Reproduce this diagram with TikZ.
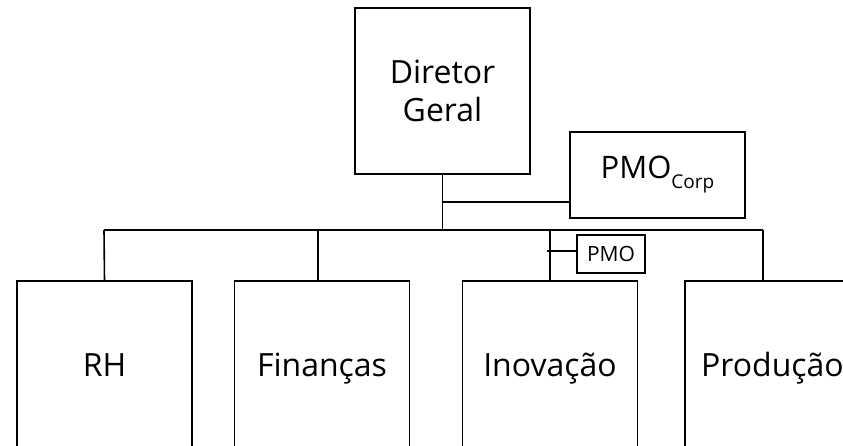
\documentclass[tikz,border=0pt]{standalone}
\usepackage{fontspec}
\setmainfont{Open Sans}
\usepackage{tikz}
\usetikzlibrary{positioning}
\tikzset{
  unit/.style={rectangle, draw=black, line width=1.6pt, inner sep=0pt, align=center,
               minimum width=175pt, minimum height=174pt, font=\fontsize{32}{38}\selectfont},
  dept/.style={unit, text height=24pt, text depth=8pt},
  office/.style={rectangle, draw=black, line width=1.6pt, inner sep=0pt, align=center},
  link/.style={line width=1.6pt},
  trunk/.style={line width=2.6pt},
}

\begin{document}
\begin{tikzpicture}[x=1pt, y=-1pt]
\useasboundingbox (0,0) rectangle (843,446);
\clip (0,0) rectangle (843,446);
% top of the chart
\node[unit, minimum height=166pt] (dg) at (442.5,91) {Diretor\\Geral};
\node[office, minimum width=175pt, minimum height=86pt, font=\fontsize{31}{36}\selectfont]
  (pmoc) at (657.5,175) {PMO\raisebox{-0.32em}{\fontsize{19}{19}\selectfont Corp}};
% departments
\node[dept] (rh) at (104.5,368) {RH};
\node[dept] (fin) at (322,368) {Finanças};
\node[dept] (inov) at (550,368) {Inovação};
\node[dept] (prod) at (772.5,368) {Produção};
\node[office, minimum width=68pt, minimum height=38pt, font=\fontsize{21}{24}\selectfont]
  (pmo) at (611,254) {PMO};
% branch points
\coordinate (barL) at (104,230);
\coordinate (barR) at (763,230);
\coordinate (dgbar) at (dg.south |- barL);
\coordinate (dgpmo) at (442.5,202);
\coordinate (finT) at (318,230);
\coordinate (inovT) at (550,230);
\coordinate (pmoT) at (547,251);
% connectors
\draw[link] (dg.south) -- (dgbar);
\draw[link] (dgpmo) -- (dgpmo -| pmoc.west);
\draw[trunk] (barL) -- (barR);
\draw[link] (barL) -- (rh.north);
\draw[link] (finT) -- (finT |- fin.north);
\draw[link] (inovT) -- (inov.north);
\draw[link] (barR) -- (barR |- prod.north);
\draw[trunk] (pmoT) -- (pmoT -| pmo.west);
\end{tikzpicture}
\end{document}
